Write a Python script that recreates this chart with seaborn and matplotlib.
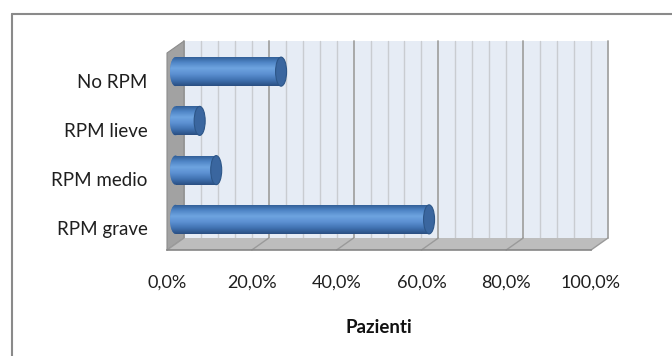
"""Horizontal 3D-style cylinder bar chart: share of patients by RPM class."""

import numpy as np
import matplotlib
matplotlib.use("Agg")
import matplotlib.pyplot as plt
import seaborn as sns
from matplotlib.patches import Ellipse, Polygon, Rectangle
from matplotlib.transforms import ScaledTranslation, IdentityTransform
from matplotlib.lines import Line2D
from matplotlib.colors import LinearSegmentedColormap

categories = ["No RPM", "RPM lieve", "RPM medio", "RPM grave"]
values = [24.9, 5.7, 9.6, 59.8]
xticks = [0, 20, 40, 60, 80, 100]
xtick_labels = ["0,0%", "20,0%", "40,0%", "60,0%", "80,0%", "100,0%"]
x_label = "Pazienti"

DPI = 100
DX, DY = 17, 12      # pixel offset of the back wall (3D depth)
W, H = 672, 356

sns.set_style("white")
plt.rcParams["font.family"] = ["Lato", "DejaVu Sans"]

fig = plt.figure(figsize=(W / DPI, H / DPI), dpi=DPI)
fig.patch.set_facecolor("white")
ax = fig.add_axes([167 / W, 1 - 250 / H, 424 / W, 197 / H])
ax.set_facecolor("none")

def shifted(dx, dy):  # data transform moved by some pixels
    return ax.transData + ScaledTranslation(dx / DPI, dy / DPI, fig.dpi_scale_trans)

# bars through seaborn
sns.barplot(x=values, y=categories, orient="h", color="#4F81BD", width=0.59,
            ax=ax, zorder=4)
bars = list(ax.patches)

ax.set_xlim(0, 100)
ax.set_ylim(3.5, -0.5)
ax.set_autoscale_on(False)

# back wall
ax.add_patch(Rectangle((0, -0.5), 100, 4, transform=shifted(DX, DY),
                       fc="#E6ECF5", ec="none", zorder=0, clip_on=False))
for g in range(0, 101, 4):
    major = g % 20 == 0
    ax.plot([g, g], [-0.5, 3.5], transform=shifted(DX, DY),
            color="#A3A3A3" if major else "#C9CCD1", lw=1.3 if major else 1.0,
            zorder=1, clip_on=False)

# left wall and floor (pixel coordinates from the data transform)
def px(x, y, back=False):
    p = ax.transData.transform((x, y))
    return (p[0] + DX, p[1] + DY) if back else (p[0], p[1])

left_wall = [px(0, -0.5), px(0, -0.5, True), px(0, 3.5, True), px(0, 3.5)]
ax.add_patch(Polygon(left_wall, closed=True, transform=IdentityTransform(),
                     fc="#A2A2A2", ec="#8C8C8C", lw=0.8, zorder=2, clip_on=False))
floor = [px(0, 3.5), px(100, 3.5), px(100, 3.5, True), px(0, 3.5, True)]
ax.add_patch(Polygon(floor, closed=True, transform=IdentityTransform(),
                     fc="#BDBDBD", ec="none", zorder=2, clip_on=False))
for t in xticks:
    a, b = px(t, 3.5), px(t, 3.5, True)
    ax.add_line(Line2D([a[0], b[0]], [a[1], b[1]], transform=IdentityTransform(),
                       color="#9A9A9A", lw=1.0, zorder=2, clip_on=False))

# cylinder shading
cyl = LinearSegmentedColormap.from_list(
    "cyl", ["#2E5A90", "#4E84C5", "#6EA4E0", "#5C90D2", "#4173B2", "#2A4F82"])
grad = np.linspace(0, 1, 64).reshape(-1, 1)
bar_tr = shifted(DX / 2, DY / 2)
cap_w = 11 / 4.24

for bar in bars:
    x0, y0 = bar.get_x(), bar.get_y()
    w, h = bar.get_width(), bar.get_height()
    yc = y0 + h / 2
    bar.set_transform(bar_tr)
    bar.set_edgecolor("none")
    bar.set_clip_on(False)
    im = ax.imshow(grad, cmap=cyl, aspect="auto", origin="upper",
                   extent=(x0 - cap_w, x0 + w, y0 + h, y0), zorder=5,
                   transform=bar_tr, interpolation="bilinear")
    im.set_clip_path(bar)
    left_cap = Ellipse((x0, yc), cap_w, h, transform=bar_tr, fc="#4F81BD",
                       ec="none", zorder=3, clip_on=False)
    ax.add_patch(left_cap)
    im2 = ax.imshow(grad, cmap=cyl, aspect="auto", origin="upper",
                    extent=(x0 - cap_w, x0 + cap_w, y0 + h, y0), zorder=3.5,
                    transform=bar_tr, interpolation="bilinear")
    im2.set_clip_path(left_cap)
    ax.add_patch(Ellipse((x0 + w, yc), cap_w, h, transform=bar_tr,
                         fc="#3A669F", ec="#2D5688", lw=0.8, zorder=6, clip_on=False))

# axes styling
for side in ["top", "right", "left"]:
    ax.spines[side].set_visible(False)
ax.spines["bottom"].set_color("#868686")
ax.spines["bottom"].set_linewidth(1.2)
ax.spines["bottom"].set_zorder(7)
ax.set_xticks(xticks, xtick_labels)
ax.tick_params(axis="x", length=5, width=1.2, color="#868686", pad=13,
               labelsize=13, labelcolor="#1F1F1F")
ax.tick_params(axis="y", length=0, pad=14, labelsize=13.5, labelcolor="#1F1F1F")
for lab in ax.get_yticklabels():
    lab.set_transform(lab.get_transform() + ScaledTranslation(0, -3 / DPI, fig.dpi_scale_trans))
ax.set_xlabel(x_label, fontsize=13.5, fontweight="bold", labelpad=20, color="#111111")
ax.set_ylabel("")

# chart frame (only top and left edges are visible)
fig.add_artist(Line2D([11.5 / W, 11.5 / W], [0, 1 - 13.5 / H],
                      transform=fig.transFigure, color="#8A8A8A", lw=1.5))
fig.add_artist(Line2D([11.5 / W, 1], [1 - 13.5 / H, 1 - 13.5 / H],
                      transform=fig.transFigure, color="#8A8A8A", lw=1.5))

fig.savefig("out.png", dpi=DPI)
